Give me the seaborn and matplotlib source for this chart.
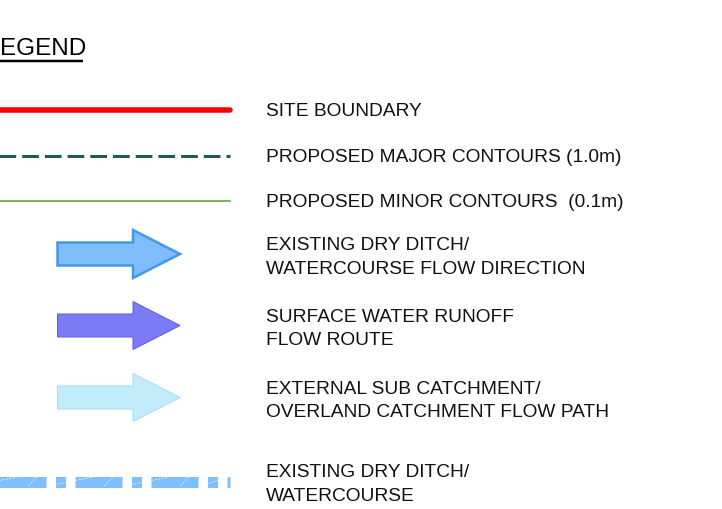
import matplotlib
matplotlib.use("Agg")
import matplotlib.pyplot as plt
from matplotlib.patches import Polygon
import seaborn as sns

# legend entries
line_labels = ["SITE BOUNDARY", "PROPOSED MAJOR CONTOURS (1.0m)", "PROPOSED MINOR CONTOURS  (0.1m)"]
line_colors = ["#ff0000", "#1b5e4e", "#78b45a"]
arrow_labels = ["EXISTING DRY DITCH/\nWATERCOURSE FLOW DIRECTION",
                "SURFACE WATER RUNOFF\nFLOW ROUTE",
                "EXTERNAL SUB CATCHMENT/\nOVERLAND CATCHMENT FLOW PATH"]
arrow_fill = ["#7fbdfd", "#7b7bf6", "#c0ecfc"]
arrow_edge = ["#4298ec", "#5c5ce8", "#a9dcef"]
ditch_label = "EXISTING DRY DITCH/\nWATERCOURSE"
ditch_color = "#80bfff"

sns.set_theme(style="white")
plt.rcParams["font.family"] = ["Liberation Sans", "DejaVu Sans"]
plt.rcParams["lines.scale_dashes"] = False

W, H = 722, 509
fig = plt.figure(figsize=(W / 100, H / 100), dpi=100)
ax = fig.add_axes([0, 0, 1, 1])
ax.set_xlim(0, W)
ax.set_ylim(H, 0)
ax.axis("off")

px = 0.72  # pixels -> points at 100 dpi
text_x = 266
fs = 13.8
ls = 1.5
tc = "#111111"

# title (the "L" sits beyond the left edge in the drawing)
ax.text(0, 54.5, "EGEND", fontsize=17.5, ha="left", va="baseline", color="black")
ax.plot([-5, 83], [61, 61], color="black", lw=2.5 * px, solid_capstyle="butt")

# line symbols
line_rows = [110, 155.5, 201]
line_widths = [5.5, 3, 2]
for lab, col, y, lw, i in zip(line_labels, line_colors, line_rows, line_widths, range(3)):
    x0 = -14.4 if i == 1 else 0
    sns.lineplot(x=[x0, 230], y=[y, y], color=col, lw=lw * px, ax=ax, legend=False)
    if i == 1:
        ax.lines[-1].set_dashes((16.7 * px, 6 * px))
        ax.lines[-1].set_dash_capstyle("butt")
    ax.text(text_x, y + 1.5, lab, fontsize=fs, va="center", color=tc)

# arrow symbols
arrow_rows = [254, 325.5, 397.5]
tail, neck, tip = 57.5, 133, 180
shaft_h, head_h = 11.5, 24
for lab, fc, ec, y, i in zip(arrow_labels, arrow_fill, arrow_edge, arrow_rows, range(3)):
    verts = [(tail, y - shaft_h), (neck, y - shaft_h), (neck, y - head_h), (tip, y),
             (neck, y + head_h), (neck, y + shaft_h), (tail, y + shaft_h)]
    ax.add_patch(Polygon(verts, closed=True, facecolor=fc, edgecolor=ec,
                         lw=(2.5 if i == 0 else 1) * px, joinstyle="miter"))
    ax.text(text_x, y + 3.5, lab, fontsize=fs, va="center", linespacing=ls, color=tc)

# existing ditch symbol: long / short dashes with a faint white diagonal in each
dy = 481.5
start = -29
pattern = [47, 9.5, 10, 9.5]
sns.lineplot(x=[start, 230], y=[dy, dy], color=ditch_color, lw=11 * px, ax=ax, legend=False)
ax.lines[-1].set_dashes(tuple(p * px for p in pattern))
ax.lines[-1].set_dash_capstyle("butt")
pos = start
while pos < 230:
    for seg, gap in ((pattern[0], pattern[1]), (pattern[2], pattern[3])):
        a, b = pos + 1, min(pos + seg, 230) - 1
        if b > a:
            ax.plot([a, b], [dy + 4.5, dy - 4.5], color="white", lw=0.8 * px,
                    ls=(0, (2 * px, 1.5 * px)), alpha=0.9)
        pos += seg + gap
ax.text(text_x, dy + 3, ditch_label, fontsize=fs, va="center", linespacing=ls, color=tc)

fig.savefig("out.png", dpi=100)
